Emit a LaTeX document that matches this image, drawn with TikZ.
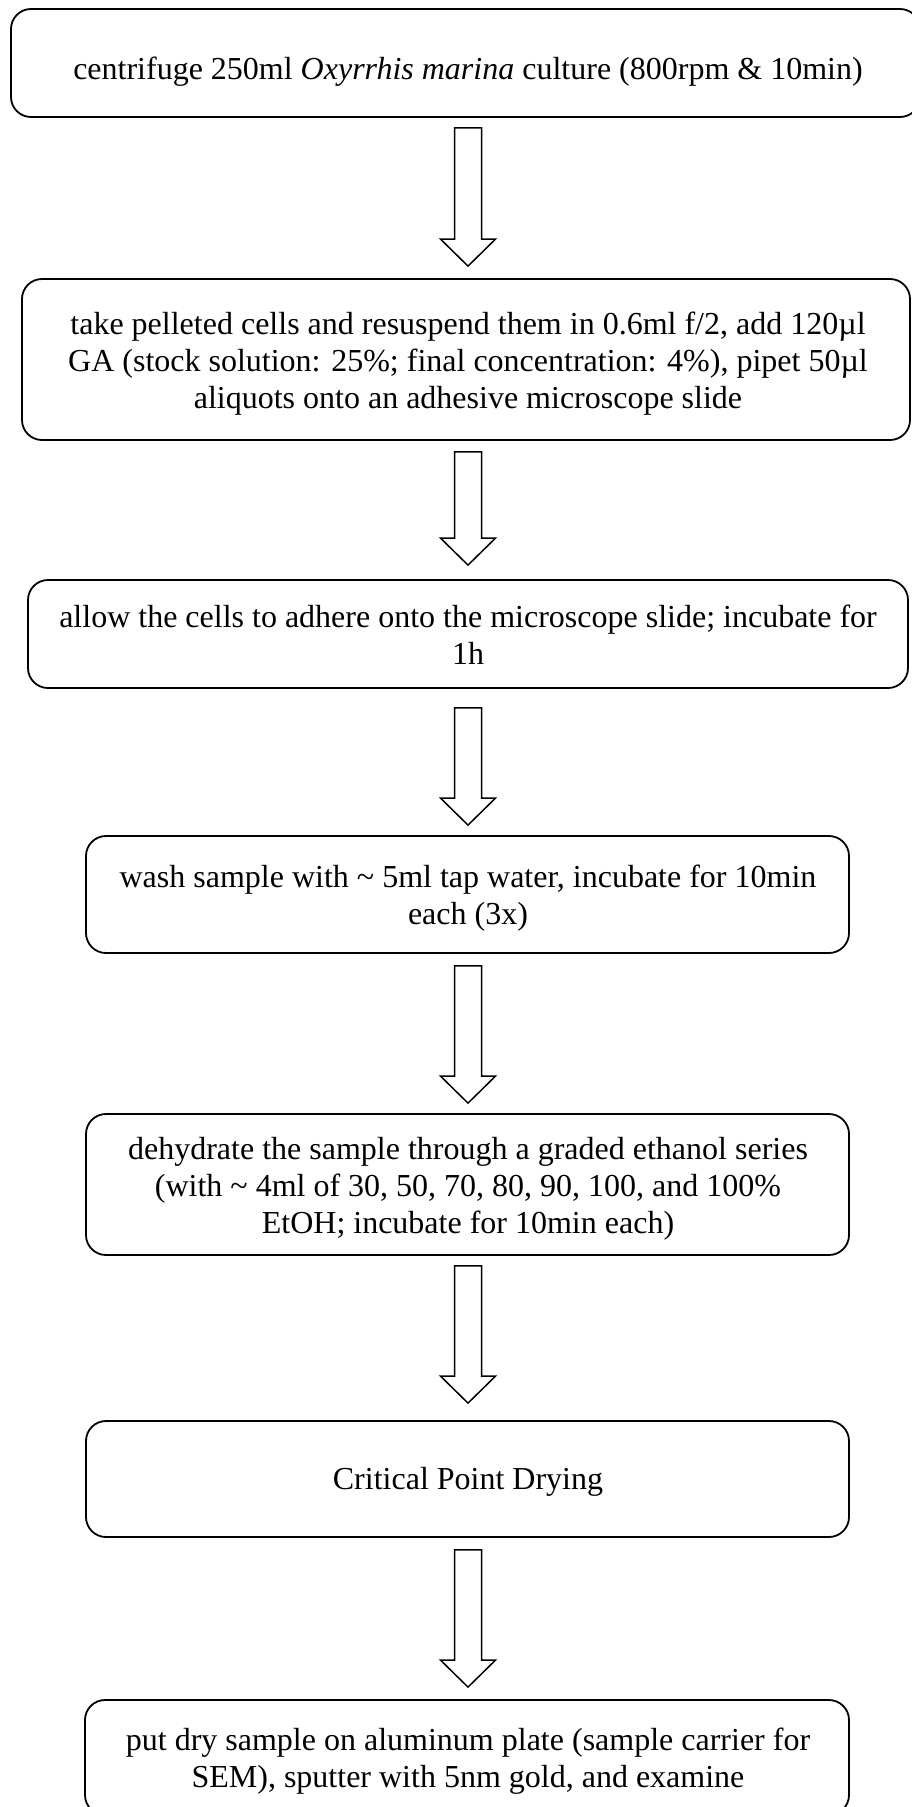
\documentclass[tikz,border=0pt]{standalone}
\usepackage{fontspec}
\setmainfont{Liberation Serif}
\usetikzlibrary{calc}

\tikzset{
  stepbox/.style={draw, line width=1.8pt, rounded corners=20pt, inner sep=0pt},
  steptext/.style={align=center, inner sep=0pt,
    font=\fontsize{32pt}{37pt}\selectfont},
  blockline/.style={draw, line width=1.5pt, line join=miter, fill=white}
}

% block arrow from start point #1 (top of shaft) to tip #2
\newcommand\blockarrow[2]{%
  \draw[blockline] let \p1=(#1), \p2=(#2) in
    (\x1-13.5pt,\y1) -- (\x1+13.5pt,\y1) -- (\x1+13.5pt,\y2+27pt)
    -- (\x1+27.5pt,\y2+27pt) -- (\x1,\y2) -- (\x1-27.5pt,\y2+27pt)
    -- (\x1-13.5pt,\y2+27pt) -- cycle;}

\begin{document}
\begin{tikzpicture}[x=1pt, y=-1pt]
\useasboundingbox (0,0) rectangle (911,1807);

% process steps
\node[stepbox, minimum width=909pt, minimum height=108pt] (b1) at (465.5,63) {};
\node[stepbox, minimum width=888pt, minimum height=161pt] (b2) at (466,359.5) {};
\node[stepbox, minimum width=880pt, minimum height=108pt] (b3) at (468,634) {};
\node[stepbox, minimum width=763pt, minimum height=117pt] (b4) at (467.5,894.5) {};
\node[stepbox, minimum width=763pt, minimum height=141pt] (b5) at (467.5,1184.5) {};
\node[stepbox, minimum width=763pt, minimum height=116pt] (b6) at (467.5,1479) {};
\node[stepbox, minimum width=764pt, minimum height=115pt] (b7) at (467,1757.5) {};

% step texts
\node[steptext] (t1) at ($(b1.center)+(2.5,9)$)
  {centrifuge 250ml \textit{Oxyrrhis marina} culture (800rpm \& 10min)};
\node[steptext] (t2) at ($(b2.center)+(2,4)$)
  {take pelleted cells and resuspend them in 0.6ml f/2, add 120µl\\
   GA (stock solution: 25\%; final concentration: 4\%), pipet 50µl\\
   aliquots onto an adhesive microscope slide};
\node[steptext] (t3) at ($(b3.center)+(0,1)$)
  {allow the cells to adhere onto the microscope slide; incubate for\\ 1h};
\node[steptext] (t4) at ($(b4.center)+(0.5,4)$)
  {wash sample with \textasciitilde\ 5ml tap water, incubate for 10min\\ each (3x)};
\node[steptext] (t5) at ($(b5.center)+(0.5,4)$)
  {dehydrate the sample through a graded ethanol series\\
   (with \textasciitilde\ 4ml of 30, 50, 70, 80, 90, 100, and 100\%\\
   EtOH; incubate for 10min each)};
\node[steptext] (t6) at ($(b6.center)+(0.5,3)$) {Critical Point Drying};
\node[steptext] (t7) at ($(b7.center)+(1,4)$)
  {put dry sample on aluminum plate (sample carrier for\\
   SEM), sputter with 5nm gold, and examine};

% connectors between steps
\coordinate (a1s) at ($(b1.south)+(2.5,10)$);  \coordinate (a1e) at ($(b2.north)+(2,-12)$);
\coordinate (a2s) at ($(b2.south)+(2,11)$);    \coordinate (a2e) at ($(b3.north)+(0,-14)$);
\coordinate (a3s) at ($(b3.south)+(0,19)$);    \coordinate (a3e) at ($(b4.north)+(0.5,-10)$);
\coordinate (a4s) at ($(b4.south)+(0.5,12)$);  \coordinate (a4e) at ($(b5.north)+(0.5,-10)$);
\coordinate (a5s) at ($(b5.south)+(0.5,10)$);  \coordinate (a5e) at ($(b6.north)+(0.5,-17)$);
\coordinate (a6s) at ($(b6.south)+(0.5,12)$);  \coordinate (a6e) at ($(b7.north)+(1,-12)$);
\blockarrow{a1s}{a1e}
\blockarrow{a2s}{a2e}
\blockarrow{a3s}{a3e}
\blockarrow{a4s}{a4e}
\blockarrow{a5s}{a5e}
\blockarrow{a6s}{a6e}
\end{tikzpicture}
\end{document}
